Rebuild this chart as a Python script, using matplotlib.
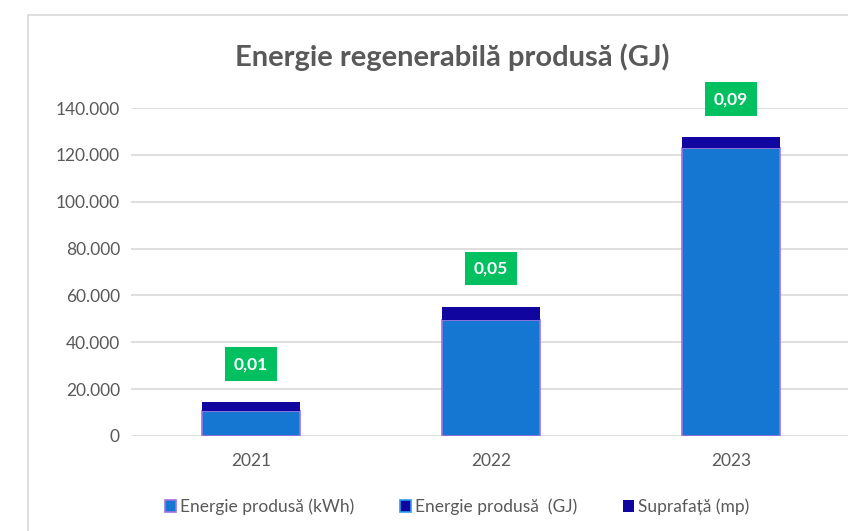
import numpy as np
import matplotlib.pyplot as plt
from matplotlib.patches import Patch, Rectangle

ani = ['2021', '2022', '2023']
energie_kwh = [10800, 49500, 123000]
suprafata = [3700, 5700, 4600]
etichete = [0.01, 0.05, 0.09]
yticks = [0, 20000, 40000, 60000, 80000, 100000, 120000, 140000]

plt.rcParams['font.family'] = ['Lato', 'DejaVu Sans']
gri = '#595959'
albastru = '#1677D2'
bleumarin = '#10069F'
mov = '#A070E0'

fig = plt.figure(figsize=(8.48, 5.31), dpi=100)
fig.patches.append(Rectangle((28 / 848, -0.1), 1.0, 1 - 15 / 531 + 0.1,
                             transform=fig.transFigure, fill=False,
                             edgecolor='#D9D9D9', lw=1.2))
ax = fig.add_axes([131 / 848, 1 - 436 / 531, 720 / 848, 328 / 531])

x = np.arange(len(ani))
w = 0.41
ax.bar(x, energie_kwh, w, color=albastru, edgecolor=mov, lw=1.2, zorder=3)
ax.bar(x, suprafata, w, bottom=energie_kwh, color=bleumarin, lw=0, zorder=3)

for xi, baza, sus, v in zip(x, energie_kwh, suprafata, etichete):
    ax.annotate(f'{v:.2f}'.replace('.', ','), (xi, baza + sus),
                xytext=(0, 38), textcoords='offset pixels', ha='center', va='center',
                color='white', fontsize=12.5, fontweight='bold', zorder=5,
                bbox=dict(boxstyle='square,pad=0.5', fc='#00C060', ec='none'))

ax.set_xlim(-0.5, 2.5)
ax.set_ylim(0, 140000)
ax.set_yticks(yticks)
ax.set_yticklabels([f'{v:,}'.replace(',', '.') for v in yticks])
ax.set_xticks(x)
ax.set_xticklabels(ani)
ax.tick_params(length=0, colors=gri, labelsize=12.5, pad=8)
ax.tick_params(axis='x', pad=12)
ax.grid(axis='y', color='#D9D9D9', lw=1.2, zorder=0)
for s in ax.spines.values():
    s.set_visible(False)

fig.text(452 / 848, 1 - 57 / 531, 'Energie regenerabilă produsă (GJ)',
         ha='center', va='center', fontsize=21, fontweight='bold', color=gri)

handles = [Patch(fc=albastru, ec=mov, lw=1.2),
           Patch(fc=bleumarin, ec='#2E9BE8', lw=1.2),
           Patch(fc=bleumarin, ec='none')]
names = ['Energie produsă (kWh)', 'Energie produsă  (GJ)', 'Suprafață (mp)']
leg = fig.legend(handles, names, loc='center', bbox_to_anchor=(457 / 848, 1 - 507 / 531),
                 ncol=3, frameon=False, fontsize=12.5, handlelength=0.65, handleheight=0.7,
                 handletextpad=0.25, columnspacing=2.6)
for t in leg.get_texts():
    t.set_color(gri)

fig.savefig('out.png', dpi=100)
